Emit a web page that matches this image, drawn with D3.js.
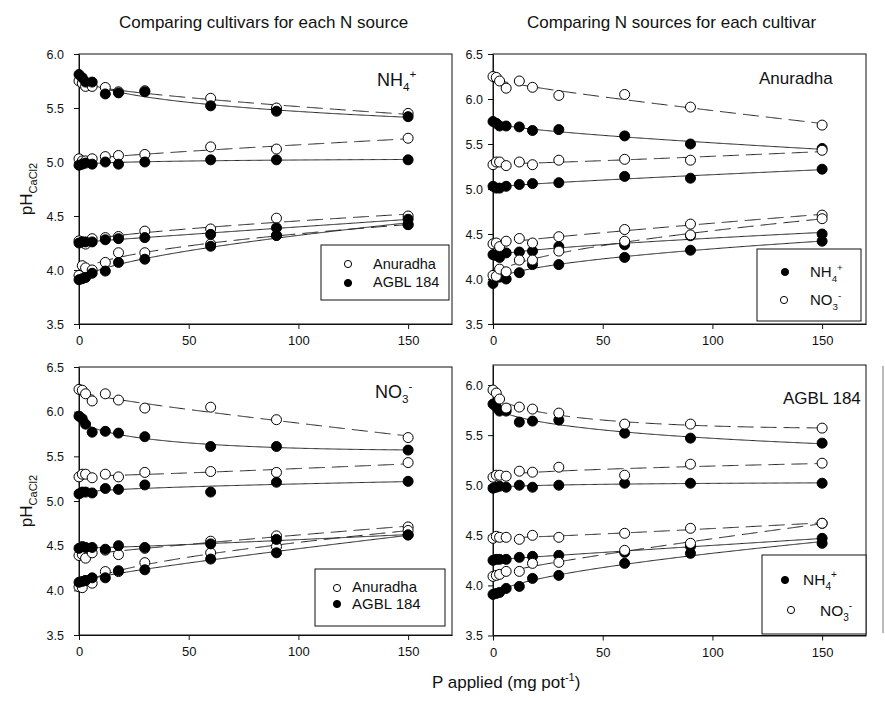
<!DOCTYPE html>
<html>
<head>
<meta charset="utf-8">
<script src="https://cdn.jsdelivr.net/npm/d3@7"></script>
<style>
  body { margin: 0; background: #fff; }
  text { font-family: "Liberation Sans", Arial, sans-serif; fill: #111; }
</style>
</head>
<body>
<svg id="chart" width="885" height="701"></svg>
<script>
// P applied (mg pot-1)
const pApplied = [0, 1.5, 3, 6, 12, 18, 30, 60, 90, 150];
const xTicks = [0, 50, 100, 150];

// pH(CaCl2), one row per soil (4 soils), cultivar x N source
const anuNH4 = [
  [5.75, 5.73, 5.70, 5.70, 5.69, 5.65, 5.66, 5.59, 5.50, 5.45],
  [5.03, 5.01, 5.01, 5.03, 5.05, 5.06, 5.07, 5.14, 5.12, 5.22],
  [4.27, 4.26, 4.24, 4.29, 4.30, 4.31, 4.36, 4.38, 4.48, 4.50],
  [3.95, 4.04, 4.02, 4.00, 4.07, 4.16, 4.16, 4.24, 4.32, 4.42]
];
const agbNH4 = [
  [5.81, 5.78, 5.74, 5.74, 5.63, 5.64, 5.65, 5.52, 5.47, 5.42],
  [4.97, 4.98, 4.99, 4.98, 5.00, 4.98, 5.00, 5.02, 5.02, 5.02],
  [4.25, 4.26, 4.26, 4.26, 4.28, 4.29, 4.30, 4.33, 4.39, 4.47],
  [3.91, 3.92, 3.93, 3.97, 3.99, 4.07, 4.10, 4.22, 4.32, 4.42]
];
const anuNO3 = [
  [6.25, 6.24, 6.20, 6.12, 6.20, 6.13, 6.04, 6.05, 5.91, 5.71],
  [5.27, 5.30, 5.30, 5.26, 5.30, 5.27, 5.32, 5.33, 5.32, 5.43],
  [4.39, 4.40, 4.36, 4.42, 4.45, 4.40, 4.47, 4.55, 4.61, 4.71],
  [4.04, 4.03, 4.11, 4.08, 4.21, 4.21, 4.31, 4.42, 4.49, 4.67]
];
const agbNO3 = [
  [5.95, 5.92, 5.86, 5.77, 5.78, 5.76, 5.72, 5.61, 5.61, 5.57],
  [5.08, 5.10, 5.10, 5.09, 5.14, 5.13, 5.18, 5.10, 5.21, 5.22],
  [4.47, 4.49, 4.48, 4.48, 4.46, 4.50, 4.48, 4.52, 4.57, 4.62],
  [4.09, 4.10, 4.11, 4.14, 4.14, 4.22, 4.23, 4.35, 4.42, 4.62]
];

const svg = d3.select("#chart");

// least squares fit y = a + b*sqrt(x) + c*x
function fitSqrt(xs, ys) {
  const M = [[0, 0, 0], [0, 0, 0], [0, 0, 0]], v = [0, 0, 0];
  xs.forEach((x, i) => {
    const r = [1, Math.sqrt(x), x];
    for (let j = 0; j < 3; j++) {
      v[j] += r[j] * ys[i];
      for (let k = 0; k < 3; k++) M[j][k] += r[j] * r[k];
    }
  });
  for (let c = 0; c < 3; c++) {
    for (let r = c + 1; r < 3; r++) {
      const f = M[r][c] / M[c][c];
      for (let k = c; k < 3; k++) M[r][k] -= f * M[c][k];
      v[r] -= f * v[c];
    }
  }
  const co = [0, 0, 0];
  for (let r = 2; r >= 0; r--) {
    let s = v[r];
    for (let k = r + 1; k < 3; k++) s -= M[r][k] * co[k];
    co[r] = s / M[r][r];
  }
  return x => co[0] + co[1] * Math.sqrt(x) + co[2] * x;
}

// text with sub/superscripts: parts = [[str, "sub"|"sup"|undefined], ...]
function richText(parent, x, y, size, parts) {
  const t = parent.append("text").attr("x", x).attr("y", y).attr("font-size", size);
  let cur = 0;
  parts.forEach(([s, kind]) => {
    const target = kind === "sub" ? size * 0.3 : kind === "sup" ? -size * 0.42 : 0;
    t.append("tspan")
      .attr("dy", target - cur)
      .attr("font-size", kind ? size * 0.65 : size)
      .text(s);
    cur = target;
  });
  return t;
}

const fitX = d3.range(0, 150.25, 0.5);

function drawPanel(p) {
  const x = d3.scaleLinear().domain([0, 170]).range([p.left, p.right]);
  const y = d3.scaleLinear().domain(p.yDomain).range([p.bottom, p.top]);
  const g = svg.append("g");

  // frame
  g.append("rect")
    .attr("x", p.left).attr("y", p.top)
    .attr("width", p.right - p.left).attr("height", p.bottom - p.top)
    .attr("fill", "none").attr("stroke", "#111").attr("stroke-width", 1);

  const xAxis = g.append("g")
    .attr("transform", `translate(0,${p.bottom})`)
    .call(d3.axisBottom(x).tickValues(xTicks).tickSize(5).tickSizeOuter(0).tickPadding(7));
  xAxis.selectAll("text").attr("font-size", 13).style("font-family", "Liberation Sans, Arial, sans-serif");

  const yAxis = g.append("g")
    .attr("transform", `translate(${p.left},0)`)
    .call(d3.axisLeft(y).tickValues(p.yTicks).tickFormat(d3.format(".1f"))
      .tickSize(5).tickSizeOuter(0).tickPadding(p.yPad));
  yAxis.selectAll("text").attr("font-size", 12.5).style("font-family", "Liberation Sans, Arial, sans-serif");
  g.selectAll(".domain, .tick line").attr("stroke", "#111");

  const line = d3.line().x(d => x(d[0])).y(d => y(d[1]));

  // fitted curves
  p.series.forEach(s => {
    s.values.forEach(row => {
      const f = fitSqrt(pApplied, row);
      g.append("path")
        .datum(fitX.map(v => [v, f(v)]))
        .attr("d", line)
        .attr("fill", "none")
        .attr("stroke", "#222")
        .attr("stroke-width", 1)
        .attr("stroke-dasharray", s.open ? "16,7" : null);
    });
  });

  // points, in legend order
  p.series.forEach(s => {
    const pts = s.values.flatMap(row => row.map((v, i) => [pApplied[i], v]));
    g.append("g").selectAll("circle")
      .data(pts)
      .join("circle")
      .attr("cx", d => x(d[0]))
      .attr("cy", d => y(d[1]))
      .attr("r", 5)
      .attr("fill", s.open ? "#fff" : "#000")
      .attr("stroke", "#000")
      .attr("stroke-width", 1);
  });

  // panel label
  richText(g, p.label.x, p.label.y, p.label.size, p.label.parts);

  // legend
  const L = p.legend;
  g.append("rect")
    .attr("x", L.x0).attr("y", L.y0)
    .attr("width", L.x1 - L.x0).attr("height", L.y1 - L.y0)
    .attr("fill", "#fff").attr("stroke", "#111").attr("stroke-width", 1);
  L.items.forEach((it, i) => {
    g.append("circle")
      .attr("cx", it.cx).attr("cy", it.cy).attr("r", 3.6)
      .attr("fill", p.series[i].open ? "#fff" : "#000")
      .attr("stroke", "#000").attr("stroke-width", 1);
    richText(g, it.tx, it.ty, L.size, it.parts);
  });
}

const yTicksTop = [3.5, 4.0, 4.5, 5.0, 5.5, 6.0];
const yTicksWide = [3.5, 4.0, 4.5, 5.0, 5.5, 6.0, 6.5];

// A: NH4+, cultivars compared
drawPanel({
  left: 79, right: 452, top: 54, bottom: 324, yDomain: [3.5, 6.0], yTicks: yTicksTop, yPad: 10,
  series: [{ values: anuNH4, open: true }, { values: agbNH4, open: false }],
  label: { x: 377, y: 86, size: 18, parts: [["NH"], ["4", "sub"], ["+", "sup"]] },
  legend: {
    x0: 321, y0: 245, x1: 449, y1: 300, size: 14.5,
    items: [
      { cx: 348, cy: 264, tx: 373, ty: 269, parts: [["Anuradha"]] },
      { cx: 348, cy: 283, tx: 373, ty: 287, parts: [["AGBL 184"]] }
    ]
  }
});

// B: Anuradha, N sources compared
drawPanel({
  left: 493, right: 866, top: 54, bottom: 324, yDomain: [3.5, 6.5], yTicks: yTicksWide, yPad: 5,
  series: [{ values: anuNH4, open: false }, { values: anuNO3, open: true }],
  label: { x: 759, y: 84, size: 17, parts: [["Anuradha"]] },
  legend: {
    x0: 757, y0: 249, x1: 861, y1: 321, size: 15,
    items: [
      { cx: 785, cy: 272, tx: 810, ty: 277, parts: [["NH"], ["4", "sub"], ["+", "sup"]] },
      { cx: 784, cy: 300, tx: 810, ty: 305, parts: [["NO"], ["3", "sub"], ["-", "sup"]] }
    ]
  }
});

// C: NO3-, cultivars compared
drawPanel({
  left: 79, right: 452, top: 367, bottom: 635, yDomain: [3.5, 6.5], yTicks: yTicksWide, yPad: 10,
  series: [{ values: anuNO3, open: true }, { values: agbNO3, open: false }],
  label: { x: 375, y: 398, size: 18, parts: [["NO"], ["3", "sub"], ["-", "sup"]] },
  legend: {
    x0: 315, y0: 569, x1: 445, y1: 626, size: 15,
    items: [
      { cx: 337, cy: 588, tx: 352, ty: 592, parts: [["Anuradha"]] },
      { cx: 337, cy: 604, tx: 352, ty: 609, parts: [["AGBL 184"]] }
    ]
  }
});

// D: AGBL 184, N sources compared
drawPanel({
  left: 493, right: 866, top: 365, bottom: 635.5, yDomain: [3.5, 6.2], yTicks: yTicksTop, yPad: 5,
  series: [{ values: agbNH4, open: false }, { values: agbNO3, open: true }],
  label: { x: 783, y: 404, size: 17, parts: [["AGBL 184"]] },
  legend: {
    x0: 762, y0: 555, x1: 866, y1: 634, size: 15.5,
    items: [
      { cx: 785, cy: 580, tx: 803, ty: 585, parts: [["NH"], ["4", "sub"], ["+", "sup"]] },
      { cx: 791, cy: 610, tx: 820, ty: 616, parts: [["NO"], ["3", "sub"], ["-", "sup"]] }
    ]
  }
});

// stray border line at the right of the lower-right panel
svg.append("line")
  .attr("x1", 883).attr("x2", 883).attr("y1", 366).attr("y2", 633)
  .attr("stroke", "#777").attr("stroke-width", 1);

// column titles
svg.append("text").attr("x", 119).attr("y", 28).attr("font-size", 17)
  .text("Comparing cultivars for each N source");
svg.append("text").attr("x", 527).attr("y", 28).attr("font-size", 17)
  .text("Comparing N sources for each cultivar");

// axis titles
richText(svg.append("g").attr("transform", "translate(32,189) rotate(-90)"), 0, 0, 17,
  [["pH"], ["CaCl2", "sub"]]).attr("text-anchor", "middle");
richText(svg.append("g").attr("transform", "translate(32,501) rotate(-90)"), 0, 0, 17,
  [["pH"], ["CaCl2", "sub"]]).attr("text-anchor", "middle");
richText(svg, 432, 688, 17, [["P applied (mg pot"], ["-1", "sup"], [")"]]);
</script>
</body>
</html>
